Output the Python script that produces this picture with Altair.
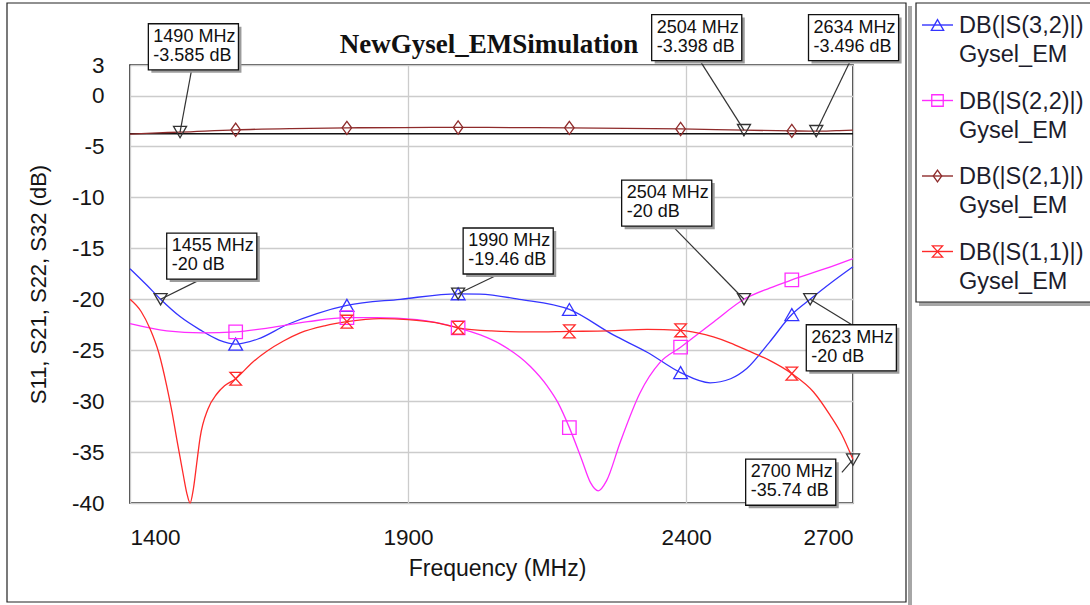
import altair as alt
import pandas as pd

# ---- S-parameter sweeps (frequency in MHz, magnitude in dB) ----
S32_FREQ = [1400, 1430, 1455, 1490, 1526, 1560, 1590, 1630, 1682, 1736, 1790, 1886, 1990,
            2029, 2100, 2190, 2269, 2330, 2390, 2443, 2480, 2509, 2550, 2590, 2623, 2660, 2700]
S32_DB = [-17.0, -18.6, -20.0, -21.7, -23.0, -24.0, -24.4, -23.9, -22.5, -21.4, -20.6, -20.0, -19.46,
          -19.5, -20.0, -21.0, -23.5, -25.2, -27.2, -28.2, -27.8, -26.8, -24.2, -21.5, -20.0, -18.4, -16.8]

S22_FREQ = [1400, 1466, 1530, 1590, 1650, 1720, 1790, 1843, 1916, 1990, 2030, 2066, 2120, 2150, 2169,
            2190, 2212, 2228, 2242, 2257, 2281, 2317, 2353, 2390, 2450, 2504, 2550, 2590, 2650, 2700]
S22_DB = [-22.4, -23.1, -23.3, -23.2, -22.8, -22.2, -21.8, -21.8, -22.0, -22.8, -23.5, -24.4, -26.6, -28.5, -30.1,
          -32.6, -35.7, -38.0, -38.8, -37.8, -34.1, -29.2, -26.2, -24.7, -22.2, -20.0, -18.9, -18.1, -17.0, -16.0]

S21_FREQ = [1400, 1450, 1490, 1590, 1690, 1790, 1890, 1990, 2090, 2190, 2290, 2390, 2504, 2590, 2634, 2670, 2700]
S21_DB = [-3.78, -3.66, -3.585, -3.36, -3.24, -3.17, -3.14, -3.13, -3.14, -3.17, -3.22, -3.28, -3.398,
          -3.47, -3.496, -3.45, -3.40]

S11_FREQ = [1400, 1420, 1436, 1452, 1466, 1476, 1484, 1490, 1496, 1502, 1508, 1514, 1520, 1526, 1540,
            1556, 1570, 1590, 1620, 1646, 1676, 1706, 1750, 1790, 1850, 1900, 1950, 1990, 2050, 2120, 2190,
            2260, 2330, 2390, 2420, 2449, 2480, 2509, 2550, 2590, 2629, 2659, 2680, 2700]
S11_DB = [-20.0, -21.2, -22.9, -25.3, -28.5, -31.2, -33.7, -35.5, -37.3, -39.0, -40.0, -38.6, -36.1, -33.6, -30.8,
          -29.3, -28.5, -27.8, -26.2, -25.1, -24.1, -23.3, -22.6, -22.2, -21.9, -22.0, -22.3, -22.8, -23.1, -23.2,
          -23.15, -23.1, -22.95, -23.05, -23.3, -23.7, -24.3, -25.0, -26.0, -27.3, -29.1, -31.4, -33.3, -35.74]

# frequencies that carry a trace symbol
SYMBOL_FREQS = [1590, 1790, 1990, 2190, 2390, 2590]

SERIES = ["DB(|S(3,2)|)", "DB(|S(2,2)|)", "DB(|S(2,1)|)", "DB(|S(1,1)|)"]
SOURCE = "Gysel_EM"
COLORS = ["#3434ff", "#ff2cff", "#8e2b2b", "#ff2a2a"]
SHAPES = ["triangle-up", "square", "M0,-1L0.72,0L0,1L-0.72,0Z", "M-0.9,-1L0.9,-1L-0.9,1L0.9,1Z"]
SYMBOL_SIZES = [190, 165, 170, 160]

# horizontal reference level
REF_LEVEL_DB = -3.75

# marker readouts: frequency and value
MARKER_FREQ = [1490, 2504, 2634, 1455, 1990, 2504, 2623, 2700]
MARKER_DB = [-3.585, -3.398, -3.496, -20, -19.46, -20, -20, -35.74]

# callout layout (box upper-left corner and leader anchor, in axis units)
BOX_LEFT = [1433, 2338, 2620, 1466, 1999, 2284, 2616, 2507]
BOX_TOP = [7.05, 7.95, 7.95, -13.5, -13.0, -8.3, -22.5, -35.7]
LEAD_F = [1511, 2425, 2695, 1529, 2065, 2376, 2698, 2680]
LEAD_DB = [2.6, 3.4, 3.4, -18.0, -17.5, -12.85, -22.5, -37.0]
BOX_W_MHZ = 162
BOX_H_DB = 4.52

FONT = "Liberation Sans, Arial, sans-serif"
W, H = 723, 438
LEFT, TOP = 130, 65

# ---- tables ----
rows = []
for name, fr, db in zip(SERIES, [S32_FREQ, S22_FREQ, S21_FREQ, S11_FREQ], [S32_DB, S22_DB, S21_DB, S11_DB]):
    for f, d in zip(fr, db):
        rows.append({"series": name, "freq": f, "db": d, "marked": f in SYMBOL_FREQS})
traces = pd.DataFrame(rows)

callouts = pd.DataFrame({
    "freq": MARKER_FREQ,
    "db": MARKER_DB,
    "lead_f": LEAD_F,
    "lead_db": LEAD_DB,
    "box_left": BOX_LEFT,
    "box_right": [b + BOX_W_MHZ for b in BOX_LEFT],
    "box_top": BOX_TOP,
    "box_bottom": [t - BOX_H_DB for t in BOX_TOP],
    "label": [f"{f} MHz\n{d:g} dB" for f, d in zip(MARKER_FREQ, MARKER_DB)],
})

# ---- shared scales / axes ----
x_scale = alt.Scale(domain=[1400, 2700], nice=False, zero=False)
y_scale = alt.Scale(domain=[-40, 3], nice=False, zero=False)
x_axis = alt.Axis(values=[1400, 1900, 2400, 2700], title="Frequency (MHz)", labelPadding=23,
                  labelExpr="'' + datum.value", titleFontSize=23,
                  titleX=367, titleY=72, titleBaseline="alphabetic")
y_axis = alt.Axis(values=[3, 0, -5, -10, -15, -20, -25, -30, -35, -40], title="S11, S21, S22, S32 (dB)",
                  labelExpr="'' + datum.value",
                  labelPadding=26, titleX=-92, titleY=219, titleBaseline="middle", titleFontSize=22)


def X(field):
    return alt.X(f"{field}:Q", scale=x_scale, axis=x_axis)


def Y(field):
    return alt.Y(f"{field}:Q", scale=y_scale, axis=y_axis)


color = alt.Color("series:N", scale=alt.Scale(domain=SERIES, range=COLORS), legend=None)
shape = alt.Shape("series:N", scale=alt.Scale(domain=SERIES, range=SHAPES), legend=None)
size = alt.Size("series:N", scale=alt.Scale(domain=SERIES, range=SYMBOL_SIZES), legend=None)

ref_line = alt.Chart(pd.DataFrame({"db": [REF_LEVEL_DB]})).mark_rule(
    color="#111111", strokeWidth=1.5).encode(y=Y("db"))

lines = alt.Chart(traces).mark_line(interpolate="monotone", strokeWidth=1.3).encode(
    x=X("freq"), y=Y("db"), color=color, detail="series:N")

symbols = alt.Chart(traces).transform_filter("datum.marked").mark_point(
    filled=False, strokeWidth=1.3, opacity=1).encode(
    x=X("freq"), y=Y("db"), color=color, shape=shape, size=size)

readouts = alt.Chart(callouts).mark_point(
    shape="triangle-down", filled=False, color="#333333", size=170, strokeWidth=1.3, opacity=1).encode(
    x=X("freq"), y=Y("db"))

leaders = alt.Chart(callouts).mark_rule(color="#333333", strokeWidth=1.2).encode(
    x=X("freq"), y=Y("db"), x2="lead_f:Q", y2="lead_db:Q")

box_shadow = alt.Chart(callouts).mark_rect(
    color="#9c9c9c", xOffset=3, x2Offset=3, yOffset=3, y2Offset=3).encode(
    x=X("box_left"), x2="box_right:Q", y=Y("box_top"), y2="box_bottom:Q")

boxes = alt.Chart(callouts).mark_rect(fill="white", stroke="#111111", strokeWidth=1.3).encode(
    x=X("box_left"), x2="box_right:Q", y=Y("box_top"), y2="box_bottom:Q")

box_text = alt.Chart(callouts).mark_text(
    align="left", baseline="top", dx=5, dy=4, lineBreak="\n", lineHeight=19,
    fontSize=18, font=FONT, color="#111111").encode(
    x=X("box_left"), y=Y("box_top"), text="label:N")

# ---- surrounding frame, title and legend panel (pixel positions relative to the plot) ----
def px(v):
    return alt.value(v)


one = pd.DataFrame({"k": [0]})
deco = []
deco.append(alt.Chart(one).mark_rect(color="#a6a6a6").encode(
    x=px(908 - LEFT), x2=px(912 - LEFT), y=px(6 - TOP), y2=px(610 - TOP)))
deco.append(alt.Chart(one).mark_rect(fill="transparent", stroke="#222222", strokeWidth=1.2).encode(
    x=px(7 - LEFT), x2=px(906 - LEFT), y=px(3 - TOP), y2=px(602 - TOP)))
deco.append(alt.Chart(one).mark_text(
    text="NewGysel_EMSimulation", font="Liberation Serif, Times New Roman, serif", fontSize=27,
    fontWeight="bold", align="center", baseline="alphabetic", color="#111111").encode(
    x=px(489 - LEFT), y=px(53 - TOP)))
# legend panel
deco.append(alt.Chart(one).mark_rect(color="#a6a6a6").encode(
    x=px(919 - LEFT), x2=px(1100 - LEFT), y=px(302 - TOP), y2=px(306 - TOP)))
deco.append(alt.Chart(one).mark_rect(fill="white", stroke="#222222", strokeWidth=1.2).encode(
    x=px(916 - LEFT), x2=px(1100 - LEFT), y=px(3 - TOP), y2=px(302 - TOP)))
for i, (name, c, shp, sz) in enumerate(zip(SERIES, COLORS, SHAPES, SYMBOL_SIZES)):
    yy = 25 + 75.5 * i - TOP
    deco.append(alt.Chart(one).mark_rule(color=c, strokeWidth=1.4).encode(
        x=px(922 - LEFT), x2=px(953 - LEFT), y=px(yy), y2=px(yy)))
    deco.append(alt.Chart(one).mark_point(shape=shp, filled=False, color=c, size=sz * 0.8,
                                          strokeWidth=1.3, opacity=1).encode(
        x=px(937.5 - LEFT), y=px(yy)))
    deco.append(alt.Chart(one).mark_text(text=name, align="left", baseline="middle", font=FONT,
                                         fontSize=23.5, color="#1c1c2c").encode(
        x=px(959 - LEFT), y=px(yy + 1)))
    deco.append(alt.Chart(one).mark_text(text=SOURCE, align="left", baseline="middle", font=FONT,
                                         fontSize=23.5, color="#1c1c2c").encode(
        x=px(959 - LEFT), y=px(yy + 30)))

chart = alt.layer(
    ref_line, lines, symbols, readouts, leaders, box_shadow, boxes, box_text, *deco
).properties(
    width=W, height=H,
    autosize=alt.AutoSizeParams(type="none"),
    padding={"left": LEFT, "top": TOP, "right": 1090 - LEFT - W, "bottom": 605 - TOP - H},
    background="white",
).configure_view(
    stroke="#1a1a1a", strokeWidth=1.6
).configure_axis(
    domain=False, ticks=False, tickSize=0, grid=True, gridColor="#cccccc", gridWidth=1.3,
    labelFont=FONT, labelFontSize=22.5, labelColor="#151515",
    titleFont=FONT, titleFontSize=21, titleFontWeight="normal", titleColor="#151515",
)

chart.save("out.html", embed_options={"renderer": "svg", "actions": False})
